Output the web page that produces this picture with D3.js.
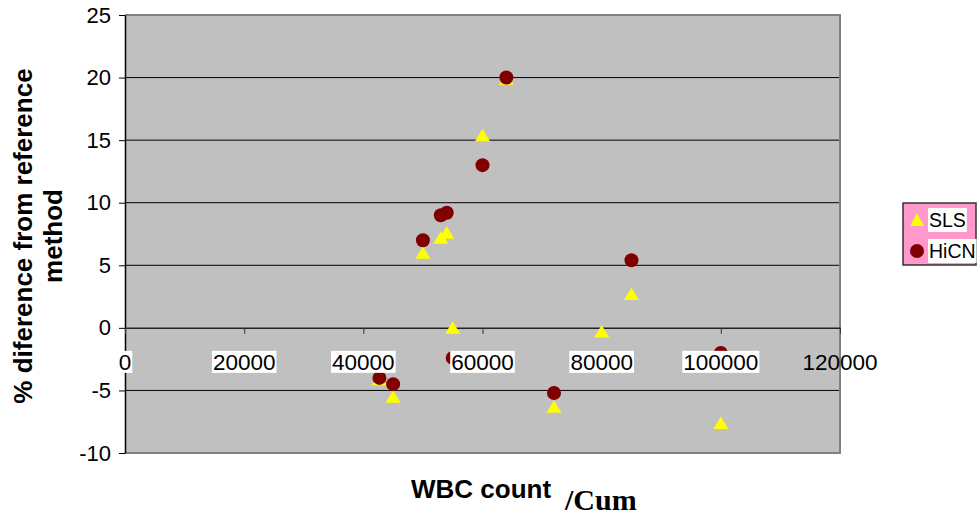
<!DOCTYPE html>
<html>
<head>
<meta charset="utf-8">
<script src="https://cdn.jsdelivr.net/npm/d3@7"></script>
<style>
  html, body { margin: 0; padding: 0; background: #fff; }
  svg { display: block; }
</style>
</head>
<body>
<svg id="chart" width="977" height="517"></svg>
<script>
// WBC count (/Cum) for each sample
const wbc = [42700, 45000, 50000, 53000, 54000, 55000, 60000, 64000, 72000, 80000, 85000, 100000];
// % difference from reference method, per analyser
const sls  = [-4.1, -5.5, 6.0, 7.2, 7.6, 0.0, 15.4, 19.9, -6.3, -0.3, 2.7, -7.6];
const hicn = [-4.0, -4.5, 7.0, 9.0, 9.2, -2.4, 13.0, 20.0, -5.2, null, 5.4, -2.0];

const xTicks = [0, 20000, 40000, 60000, 80000, 100000, 120000];
const yTicks = [-10, -5, 0, 5, 10, 15, 20, 25];
const seriesNames = ["SLS", "HiCN"];

const svg = d3.select("#chart");
const plot = { left: 125, right: 840, top: 15, bottom: 453 };
const plain = d => String(d);   // plain hyphen-minus, no thousands separator

const x = d3.scaleLinear().domain([0, 120000]).range([plot.left, plot.right]);
const y = d3.scaleLinear().domain([-10, 25]).range([plot.bottom, plot.top]);

// plot area background
svg.append("rect")
  .attr("x", plot.left).attr("y", plot.top)
  .attr("width", plot.right - plot.left).attr("height", plot.bottom - plot.top)
  .attr("fill", "#c0c0c0");

// horizontal gridlines
svg.append("g")
  .selectAll("line")
  .data(yTicks.filter(d => d > -10 && d < 25 && d !== 0))
  .join("line")
  .attr("x1", plot.left).attr("x2", plot.right)
  .attr("y1", d => y(d)).attr("y2", d => y(d))
  .attr("stroke", "#000").attr("stroke-width", 1);

// plot frame (top, right, bottom)
svg.append("path")
  .attr("d", `M${plot.left},${plot.top}H${plot.right}V${plot.bottom}H${plot.left}`)
  .attr("fill", "none").attr("stroke", "#808080").attr("stroke-width", 2);

// y axis
const yAxis = svg.append("g")
  .attr("transform", `translate(${plot.left},0)`)
  .call(d3.axisLeft(y).tickValues(yTicks).tickFormat(plain).tickSize(6).tickPadding(8).tickSizeOuter(0));
yAxis.select(".domain").attr("stroke", "#000").attr("stroke-width", 1.5);
yAxis.selectAll(".tick line").attr("stroke", "#000");
yAxis.selectAll(".tick text")
  .attr("font-family", "Arial, 'Liberation Sans', sans-serif")
  .attr("font-size", 22).attr("fill", "#000");

// x axis along y = 0
const xAxis = svg.append("g")
  .attr("transform", `translate(0,${y(0)})`)
  .call(d3.axisBottom(x).tickValues(xTicks).tickSize(6).tickFormat(plain).tickSizeOuter(0));
xAxis.select(".domain").attr("stroke", "#222").attr("stroke-width", 1.5);
xAxis.selectAll(".tick line").attr("stroke", "#333");
xAxis.selectAll(".tick text").remove();

// SLS markers (triangles)
svg.append("g")
  .selectAll("path")
  .data(wbc.map((w, i) => [w, sls[i]]).filter(d => d[1] !== null))
  .join("path")
  .attr("transform", d => `translate(${x(d[0])},${y(d[1])})`)
  .attr("d", "M0,-6.5L7.5,6L-7.5,6Z")
  .attr("fill", "#ffff00");

// HiCN markers (circles)
svg.append("g")
  .selectAll("circle")
  .data(wbc.map((w, i) => [w, hicn[i]]).filter(d => d[1] !== null))
  .join("circle")
  .attr("cx", d => x(d[0])).attr("cy", d => y(d[1]))
  .attr("r", 7)
  .attr("fill", "#800000");

// x tick labels with white boxes
const xl = svg.append("g");
xTicks.forEach(t => {
  const g = xl.append("g").attr("transform", `translate(${x(t)},${y(0) + 34})`);
  const txt = g.append("text")
    .attr("text-anchor", "middle")
    .attr("dy", "0.35em")
    .attr("font-family", "Arial, 'Liberation Sans', sans-serif")
    .attr("font-size", 22.5).attr("fill", "#000")
    .text(plain(t));
  if (t < 120000) {
    const bb = txt.node().getBBox();
    g.insert("rect", "text")
      .attr("x", bb.x - 1).attr("y", -11)
      .attr("width", bb.width + 2).attr("height", 22)
      .attr("fill", "#fff");
  }
});

// y axis title
svg.append("text")
  .attr("transform", "translate(0,236) rotate(-90)")
  .attr("text-anchor", "middle")
  .attr("font-family", "Arial, 'Liberation Sans', sans-serif")
  .attr("font-weight", "bold").attr("font-size", 26).attr("fill", "#000")
  .call(t => {
    t.append("tspan").attr("x", 0).attr("y", 32).text("% diference from reference");
    t.append("tspan").attr("x", 0).attr("y", 62).text("method");
  });

// x axis title
svg.append("text")
  .attr("x", 411).attr("y", 498)
  .attr("font-family", "Arial, 'Liberation Sans', sans-serif")
  .attr("font-weight", "bold").attr("font-size", 26).attr("fill", "#000")
  .text("WBC count");
svg.append("text")
  .attr("x", 565).attr("y", 510)
  .attr("font-family", "'Times New Roman', 'Liberation Serif', serif")
  .attr("font-weight", "bold").attr("font-size", 30).attr("fill", "#000")
  .text("/Cum");

// legend
const legend = svg.append("g").attr("transform", "translate(903,203)");
legend.append("rect")
  .attr("width", 73).attr("height", 62)
  .attr("fill", "#ff99cc").attr("stroke", "#333").attr("stroke-width", 1.5);
seriesNames.forEach((name, i) => {
  const cy = 17 + i * 31;
  const row = legend.append("g").attr("transform", `translate(0,${cy})`);
  if (i === 0) {
    row.append("path").attr("transform", "translate(14,0)")
      .attr("d", "M0,-7L7,6L-7,6Z").attr("fill", "#ffff00");
  } else {
    row.append("circle").attr("cx", 14).attr("cy", 0).attr("r", 7).attr("fill", "#800000");
  }
  const txt = row.append("text")
    .attr("x", 26).attr("dy", "0.35em")
    .attr("font-family", "Arial, 'Liberation Sans', sans-serif")
    .attr("font-size", 19.5).attr("fill", "#000")
    .text(name);
  const bb = txt.node().getBBox();
  row.insert("rect", "text")
    .attr("x", bb.x - 1).attr("y", -12)
    .attr("width", bb.width + 2).attr("height", 24)
    .attr("fill", "#fff");
});
</script>
</body>
</html>
